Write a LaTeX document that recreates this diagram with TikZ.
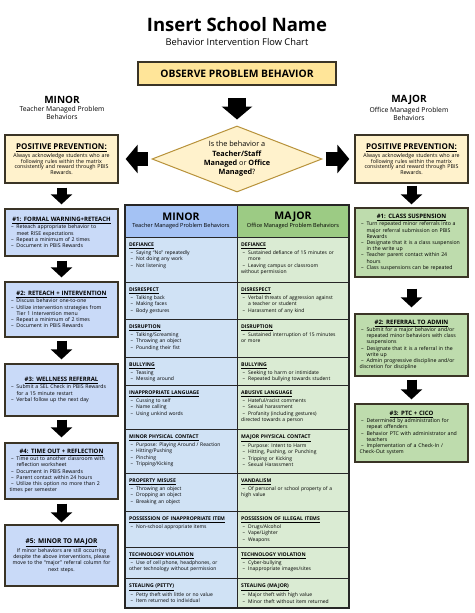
\documentclass[tikz,border=0pt]{standalone}
\usepackage{fontspec}
\setmainfont{Open Sans}
\usetikzlibrary{shapes.geometric,arrows.meta,positioning}

\definecolor{obsfill}{HTML}{FFE599}
\definecolor{ppfill}{HTML}{FFF2CC}
\definecolor{edge}{HTML}{3A3426}
\definecolor{diamondedge}{HTML}{B8923A}
\definecolor{minorbox}{HTML}{C9DAF8}
\definecolor{majorbox}{HTML}{BEDCAD}
\definecolor{minorhead}{HTML}{A4C2F4}
\definecolor{majorhead}{HTML}{9CCB84}
\definecolor{minorcell}{HTML}{D0E2F5}
\definecolor{majorcell}{HTML}{DAEBD3}

\newcommand\bul{\par\noindent\hangindent=7pt\hangafter=1\makebox[7pt][l]{\hspace{1.5pt}--}}
\newcommand\boxhd[1]{{\centering\fontsize{6}{7.4}\selectfont\bfseries\underline{#1}\par}\vskip1pt}
\newcommand\cellhd[1]{{\fontsize{5.1}{6.4}\selectfont\bfseries\underline{#1}\par}\vskip0.6pt}

\tikzset{
    obsbox/.style={draw=edge,line width=1.5pt,fill=obsfill,minimum width=198pt,minimum height=23pt,
        font=\fontsize{10.3}{12}\selectfont\bfseries},
    decision/.style={diamond,aspect=2.58,draw=diamondedge,line width=1pt,fill=ppfill,
        minimum width=170pt,minimum height=66pt,inner sep=0pt,align=center,
        font=\fontsize{7.3}{9.3}\selectfont},
    stepbox/.style={draw=edge,line width=1.3pt,minimum width=113pt,text width=104pt,inner xsep=2pt,
        align=left,font=\fontsize{5.2}{6.2}\selectfont},
    minorstep/.style={stepbox,fill=minorbox},
    majorstep/.style={stepbox,fill=majorbox},
    ppbox/.style={stepbox,fill=ppfill,minimum height=48pt,align=center,font=\fontsize{5.3}{5.7}\selectfont},
    sidelabel/.style={inner sep=0pt,font=\fontsize{10}{12}\selectfont\bfseries},
    sidesub/.style={inner sep=0pt,align=center,font=\fontsize{6.8}{8.3}\selectfont},
    cell/.style={anchor=north west,text width=104pt,inner xsep=4pt,inner ysep=6pt,align=left,
        font=\fontsize{5}{6.6}\selectfont},
    tableline/.style={draw=black!85,line width=0.9pt},
    downarrow/.style={line width=10pt,-{Triangle[width=21pt,length=10pt]}},
    sidearrow/.style={line width=14pt,-{Triangle[width=28pt,length=12pt]}},
    bigarrow/.style={line width=18pt,-{Triangle[width=30pt,length=13pt]}}
}

\begin{document}
\begin{tikzpicture}[x=1pt,y=-1pt]
    \useasboundingbox (0,0) rectangle (474,613);
    \fill[white] (0,0) rectangle (474,613);

    % heading
    \node[font=\fontsize{18.5}{20}\selectfont\bfseries] (title) at (237,25) {Insert School Name};
    \node[font=\fontsize{9.3}{11}\selectfont] (subtitle) at (237,42.5) {Behavior Intervention Flow Chart};
    \node[obsbox] (observe) at (237,73.5) {OBSERVE PROBLEM BEHAVIOR};

    \node[sidelabel] (minorlbl) at (62,100.3) {MINOR};
    \node[sidesub,below=2pt of minorlbl] (minorsub) {Teacher Managed Problem\\Behaviors};
    \node[sidelabel] (majorlbl) at (409,100.3) {MAJOR};
    \node[sidesub,below=2pt of majorlbl] (majorsub) {Office Managed Problem\\Behaviors};

    \node[decision] (decide) at (237,159) {Is the behavior a\\\textbf{Teacher/Staff}\\\textbf{Managed} or \textbf{Office}\\\textbf{Managed}?};

    % minor column
    \node[ppbox] (ppminor) at (61.5,159) {{\fontsize{8}{10}\selectfont\bfseries\underline{POSITIVE PREVENTION:}}\\[1pt]
        Always acknowledge students who are\\following rules within the matrix\\consistently and reward through PBIS\\Rewards.};
    \node[minorstep,minimum height=47pt] (minorA) at (61.5,232.5) {\boxhd{\#1: FORMAL WARNING+RETEACH}
        \bul Reteach appropriate behavior to\newline meet RISE expectations
        \bul Repeat a minimum of 2 times
        \bul Document in PBIS Rewards};
    \node[minorstep,minimum height=55pt] (minorB) at (61.5,309.5) {\boxhd{\#2: RETEACH + INTERVENTION}
        \bul Discuss behavior one-to-one
        \bul Utilize intervention strategies from\newline Tier 1 Intervention menu
        \bul Repeat a minimum of 2 times
        \bul Document in PBIS Rewards};
    \node[minorstep,minimum height=52pt] (minorC) at (61.5,390) {\boxhd{\#3: WELLNESS REFERRAL}
        \bul Submit a SEL Check in PBIS Rewards\newline for a 15 minute restart
        \bul Verbal follow up the next day};
    \node[minorstep,minimum height=56pt] (minorD) at (61.5,471) {\boxhd{\#4: TIME OUT + REFLECTION}
        \bul Time out to another classroom with\newline reflection worksheet
        \bul Document in PBIS Rewards
        \bul Parent contact within 24 hours
        \bul Utilize this option no more than 2\newline times per semester};
    \node[minorstep,minimum height=61pt,align=center,font=\fontsize{5.2}{6.2}\selectfont] (minorE) at (61.5,555.5) {{\fontsize{6.6}{8.4}\selectfont\bfseries\underline{\#5: MINOR TO MAJOR}}\\[0.5pt]
        If minor behaviors are still occurring\\despite the above interventions, please\\move to the ``major'' referral column for\\next steps.};

    % major column
    \node[ppbox] (ppmajor) at (411.5,159) {{\fontsize{8}{10}\selectfont\bfseries\underline{POSITIVE PREVENTION:}}\\[1pt]
        Always acknowledge students who are\\following rules within the matrix\\consistently and reward through PBIS\\Rewards.};
    \node[majorstep,minimum height=69pt] (majorA) at (411.5,242.5) {\boxhd{\#1: CLASS SUSPENSION}
        \bul Turn repeated minor referrals into a\newline major referral submission on PBIS\newline Rewards
        \bul Designate that it is a class suspension\newline in the write up
        \bul Teacher parent contact within 24\newline hours
        \bul Class suspensions can be repeated};
    \node[majorstep,minimum height=62pt] (majorB) at (411.5,345) {\boxhd{\#2: REFERRAL TO ADMIN}
        \bul Submit for a major behavior and/or\newline repeated minor behaviors with class\newline suspensions
        \bul Designate that it is a referral in the\newline write up
        \bul Admin progressive discipline and/or\newline discretion for discipline};
    \node[majorstep,minimum height=58pt] (majorC) at (411.5,433) {\boxhd{\#3: PTC + CICO}
        \bul Determined by administration for\newline repeat offenders
        \bul Behavior PTC with administrator and\newline teachers
        \bul Implementation of a Check-In /\newline Check-Out system};

    % arrows
    \draw[bigarrow,shorten <=12pt,shorten >=6pt] (observe.south) -- (decide.north);
    \draw[sidearrow,shorten <=4pt,shorten >=7pt] (decide.west) -- (ppminor.east);
    \draw[sidearrow,shorten <=3pt,shorten >=5pt] (decide.east) -- (ppmajor.west);
    \draw[downarrow,shorten <=4pt,shorten >=4pt] (ppminor) -- (minorA);
    \draw[downarrow,shorten <=4pt,shorten >=4pt] (minorA) -- (minorB);
    \draw[downarrow,shorten <=3pt,shorten >=4pt] (minorB) -- (minorC);
    \draw[downarrow,shorten <=3pt,shorten >=5pt] (minorC) -- (minorD);
    \draw[downarrow,shorten <=4pt,shorten >=2pt] (minorD) -- (minorE);
    \draw[downarrow,shorten <=2pt,shorten >=3pt] (ppmajor) -- (majorA);
    \draw[downarrow,shorten <=11pt,shorten >=6pt] (majorA) -- (majorB);
    \draw[downarrow,shorten <=3pt,shorten >=4pt] (majorB) -- (majorC);

    % table
    \fill[minorhead] (125,205) rectangle (237,237);
    \fill[majorhead] (237,205) rectangle (349,237);
    \fill[minorcell] (125,237) rectangle (237,608);
    \fill[majorcell] (237,237) rectangle (349,608);
    \foreach \y in {237,282,319,357,385,429,473,511,547,578}
        \draw[tableline] (125,\y) -- (349,\y);
    \draw[tableline] (237,205) -- (237,608);
    \draw[tableline,line width=1.4pt] (125,205) rectangle (349,608);

    \node[font=\fontsize{10.5}{12}\selectfont\bfseries] (minorhd) at (181,216.5) {MINOR};
    \node[font=\fontsize{5.6}{7}\selectfont] (minorhdsub) at (181,226.5) {Teacher Managed Problem Behaviors};
    \node[font=\fontsize{10.5}{12}\selectfont\bfseries] (majorhd) at (293,216.5) {MAJOR};
    \node[font=\fontsize{5.6}{7}\selectfont] (majorhdsub) at (293,226.5) {Office Managed Problem Behaviors};

    \node[cell] (minor1) at (125,237) {\cellhd{DEFIANCE}\bul Saying ``No'' repeatedly\bul Not doing any work\bul Not listening};
    \node[cell] (major1) at (237,237) {\cellhd{DEFIANCE}\bul Sustained defiance of 15 minutes or\newline more
        \bul Leaving campus or classroom\newline without permission};
    \node[cell] (minor2) at (125,282) {\cellhd{DISRESPECT}\bul Talking back\bul Making faces\bul Body gestures};
    \node[cell] (major2) at (237,282) {\cellhd{DISRESPECT}\bul Verbal threats of aggression against\newline a teacher or student
        \bul Harassment of any kind};
    \node[cell] (minor3) at (125,319) {\cellhd{DISRUPTION}\bul Talking/Screaming\bul Throwing an object\bul Pounding their fist};
    \node[cell] (major3) at (237,319) {\cellhd{DISRUPTION}\bul Sustained interruption of 15 minutes\newline or more};
    \node[cell] (minor4) at (125,357) {\cellhd{BULLYING}\bul Teasing\bul Messing around};
    \node[cell] (major4) at (237,357) {\cellhd{BULLYING}\bul Seeking to harm or intimidate\bul Repeated bullying towards student};
    \node[cell] (minor5) at (125,385) {\cellhd{INAPPROPRIATE LANGUAGE}\bul Cussing to self\bul Name calling\bul Using unkind words};
    \node[cell] (major5) at (237,385) {\cellhd{ABUSIVE LANGUAGE}\bul Hateful/racist comments\bul Sexual harassment
        \bul Profanity (including gestures)\newline directed towards a person};
    \node[cell] (minor6) at (125,429) {\cellhd{MINOR PHYSICAL CONTACT}\bul Purpose: Playing Around / Reaction
        \bul Hitting/Pushing\bul Pinching\bul Tripping/Kicking};
    \node[cell] (major6) at (237,429) {\cellhd{MAJOR PHYSICAL CONTACT}\bul Purpose: Intent to Harm
        \bul Hitting, Pushing, or Punching\bul Tripping or Kicking\bul Sexual Harassment};
    \node[cell] (minor7) at (125,473) {\cellhd{PROPERTY MISUSE}\bul Throwing an object\bul Dropping an object\bul Breaking an object};
    \node[cell] (major7) at (237,473) {\cellhd{VANDALISM}\bul Of personal or school property of a\newline high value};
    \node[cell] (minor8) at (125,511) {\cellhd{POSSESSION OF INAPPROPRIATE ITEM}\bul Non-school appropriate items};
    \node[cell] (major8) at (237,511) {\cellhd{POSSESSION OF ILLEGAL ITEMS}\bul Drugs/Alcohol\bul Vape/Lighter\bul Weapons};
    \node[cell] (minor9) at (125,547) {\cellhd{TECHNOLOGY VIOLATION}\bul Use of cell phone, headphones, or\newline other technology without permission};
    \node[cell] (major9) at (237,547) {\cellhd{TECHNOLOGY VIOLATION}\bul Cyber-bullying\bul Inappropriate images/sites};
    \node[cell] (minor10) at (125,578) {\cellhd{STEALING (PETTY)}\bul Petty theft with little or no value\bul Item returned to individual};
    \node[cell] (major10) at (237,578) {\cellhd{STEALING (MAJOR)}\bul Major theft with high value\bul Minor theft without item returned};
\end{tikzpicture}
\end{document}
